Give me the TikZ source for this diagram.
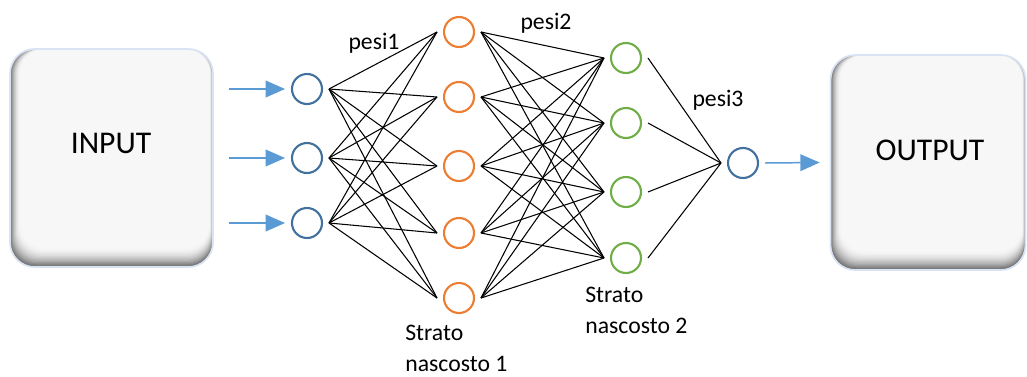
\documentclass[tikz,border=0pt]{standalone}
\usepackage{fontspec}
\setmainfont{Carlito}
\usepackage{xcolor}
\usepackage{tikz}
\usetikzlibrary{arrows.meta}

\definecolor{inblue}{HTML}{41719C}
\definecolor{hidorange}{HTML}{ED7D31}
\definecolor{hidgreen}{HTML}{70AD47}
\definecolor{arrblue}{HTML}{5B9BD5}
\definecolor{glowblue}{HTML}{DAE3F3}

\begin{document}
\begin{tikzpicture}[
    x=0.02cm, y=-0.02cm,
    neuron/.style={draw, circle, line width=1.2pt, minimum size=0.6cm, inner sep=0pt, outer sep=0.14cm},
    inneuron/.style={neuron, draw=inblue},
    hidA/.style={neuron, draw=hidorange},
    hidB/.style={neuron, draw=hidgreen},
    iobox/.style={draw=glowblue, line width=1pt, rounded corners=14pt, inner sep=0pt,
        path picture={
            \foreach \k [evaluate=\k as \c using 55*(1-\k/16)^2+3] in {0,...,16}
                \fill[black!\c, rounded corners=14pt]
                    ([shift={(\k*0.38pt,\k*0.7pt)}]path picture bounding box.south west)
                    rectangle ([shift={(-\k*0.12pt,0pt)}]path picture bounding box.north east);
        }},
    iotext/.style={font=\fontsize{18}{22}\selectfont},
    lbl/.style={font=\fontsize{13.5}{17.6}\selectfont, inner sep=0pt},
    feed/.style={-{Triangle[length=11pt,width=9.5pt]}, arrblue, line width=0.85pt},
    syn/.style={line width=0.6pt}
    ]

    \useasboundingbox (0,0) rectangle (1027,376);

    % input and output boxes
    \node[iobox, minimum width=4.06cm, minimum height=4.36cm] (inbox) at (111.5,158) {};
    \node[iotext] (intext) at (111,143) {INPUT};
    \node[iobox, minimum width=3.9cm, minimum height=4.3cm] (outbox) at (928,162.5) {};
    \node[iotext] (outtext) at (930,150) {OUTPUT};

    % neurons
    \foreach \y [count=\i] in {89,158,223}
        \node[inneuron] (i\i) at (307,\y) {};
    \foreach \y [count=\i] in {32,97,166,233,298}
        \node[hidA] (a\i) at (459,\y) {};
    \foreach \y [count=\i] in {58,123,192,258}
        \node[hidB] (b\i) at (626,\y) {};
    \node[inneuron] (o) at (743,163) {};

    % inputs
    \foreach \y [count=\i] in {89,158,223} {
        \coordinate (s\i) at (229,\y);
        \draw[feed] (s\i) -- (i\i.west);
    }

    % weights
    \foreach \i in {1,2,3}
        \foreach \j in {1,...,5}
            \draw[syn] (i\i.east) -- (a\j.west);
    \foreach \i in {1,...,5}
        \foreach \j in {1,...,4}
            \draw[syn] (a\i.east) -- (b\j.west);
    \foreach \i in {1,...,4}
        \draw[syn] (b\i.east) -- (o.west);

    \draw[feed] (o.east) -- ([xshift=-0.2cm]outbox.west);

    % labels
    \node[lbl, anchor=base] (w1) at (374,49) {pesi1};
    \node[lbl, anchor=base] (w2) at (546,29) {pesi2};
    \node[lbl, anchor=base] (w3) at (718,106) {pesi3};
    \node[lbl, anchor=north west, align=left] (l1) at (405,325) {Strato\\nascosto 1};
    \node[lbl, anchor=north west, align=left] (l2) at (585,287) {Strato\\nascosto 2};

\end{tikzpicture}
\end{document}
